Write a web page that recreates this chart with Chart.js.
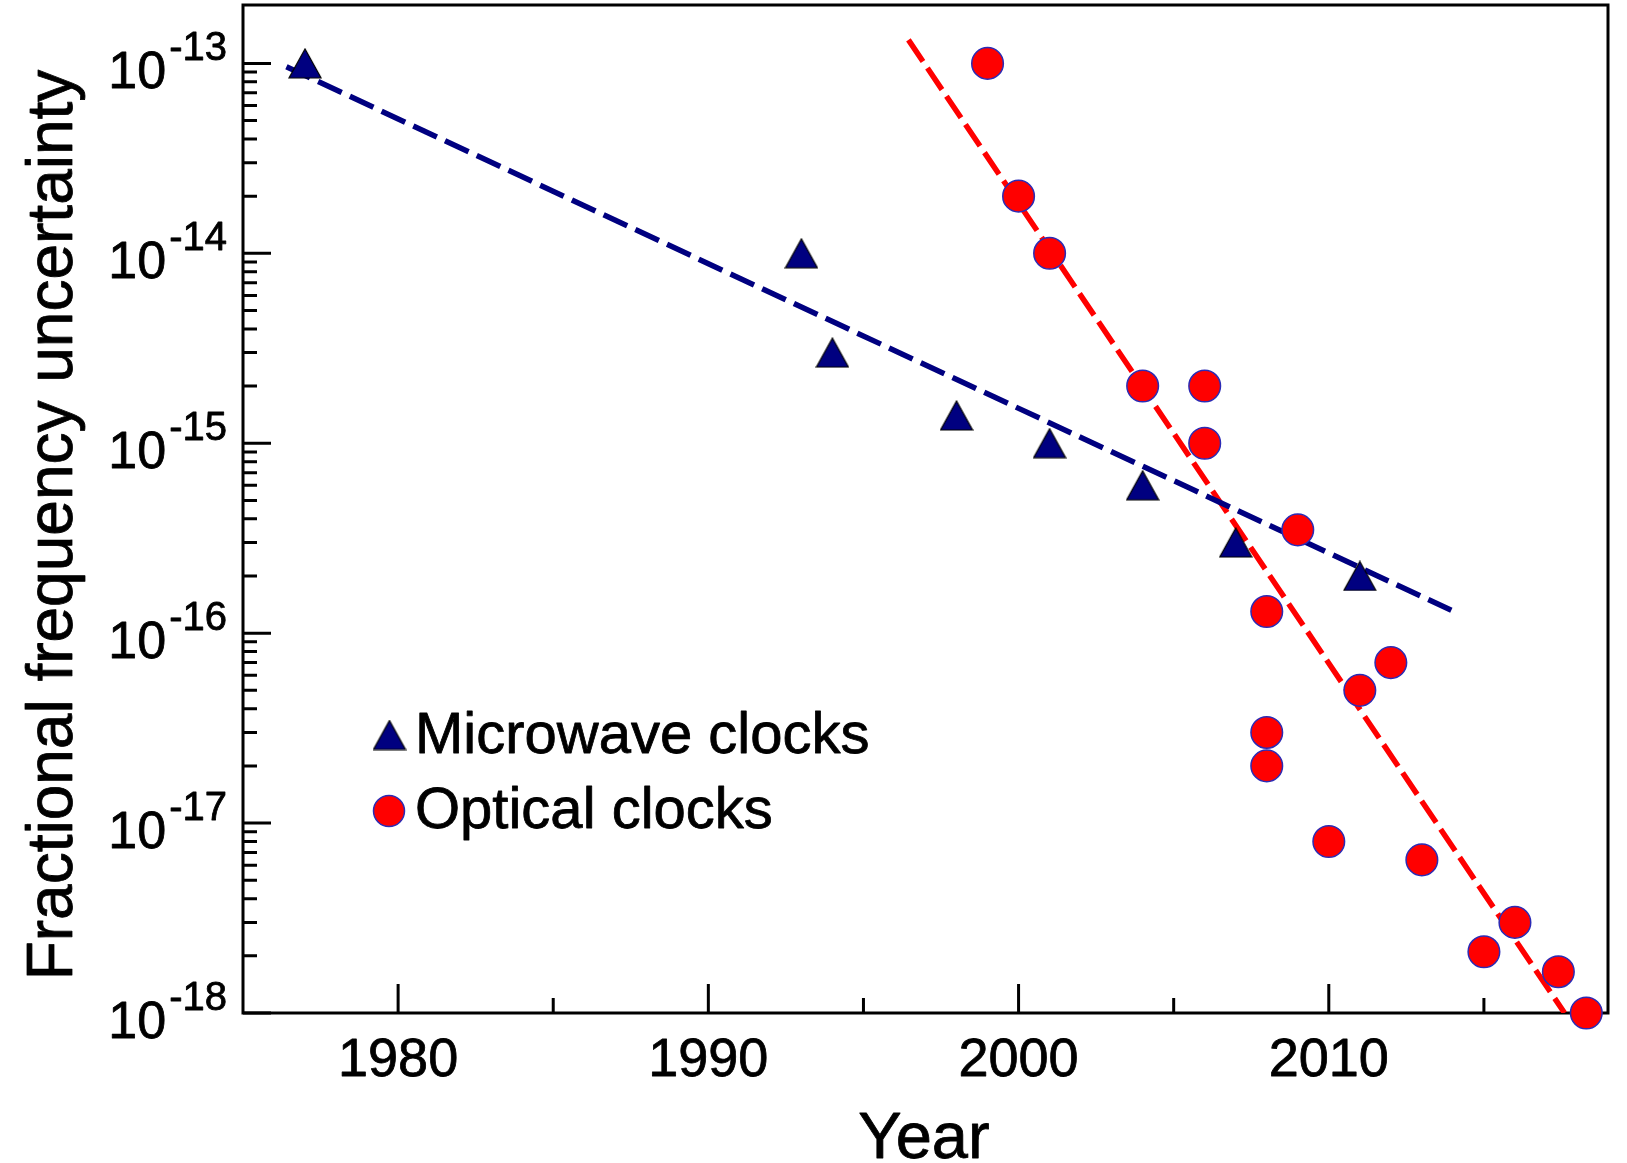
<!DOCTYPE html>
<html>
<head>
<meta charset="utf-8">
<script src="https://cdn.jsdelivr.net/npm/chart.js@4.4.1/dist/chart.umd.min.js"></script>
<style>
  html, body { margin: 0; padding: 0; background: #fff; }
  #wrap { width: 1627px; height: 1163px; }
</style>
</head>
<body>
<div id="wrap"><canvas id="clockChart" width="1627" height="1163"></canvas></div>
<script>
const microwaveYears = [1977, 1993, 1994, 1998, 2001, 2004, 2007, 2011];
const microwaveValues = [1e-13, 1e-14, 3e-15, 1.4e-15, 1e-15, 6e-16, 3e-16, 2e-16];

const opticalYears = [1999, 2000, 2001, 2004, 2006, 2006, 2008, 2008, 2008, 2009,
                      2010, 2011, 2012, 2013, 2015, 2016, 2017.4, 2018.3];
const opticalValues = [1e-13, 2e-14, 1e-14, 2e-15, 2e-15, 1e-15, 1.3e-16, 3e-17, 2e-17, 3.5e-16,
                       8e-18, 5e-17, 7e-17, 6.4e-18, 2.1e-18, 3e-18, 1.65e-18, 1e-18];

// dashed trend lines (end points)
const microwaveFitYears = [1976.4, 2013.95];
const microwaveFitValues = [9.6e-14, 1.32e-16];
const opticalFitYears = [1996.45, 2017.6];
const opticalFitValues = [1.33e-13, 1e-18];

// axes
const xMajorTicks = [1980, 1990, 2000, 2010];
const xMinorTicks = [1985, 1995, 2005, 2015];
const yTickExponents = [-13, -14, -15, -16, -17, -18];

const seriesNames = ['Microwave clocks', 'Optical clocks'];
const xTitle = 'Year';
const yTitle = 'Fractional frequency uncertainty';

const FONT = "'Liberation Sans', Arial, Helvetica, sans-serif";
const NAVY = '#000080';
const RED = '#ff0000';
const CIRCLE_EDGE = '#2b2bb5';

const toPoints = (xs, ys) => xs.map((x, i) => ({ x: x, y: ys[i] }));

function makeTriangle(w, h) {
    const c = document.createElement('canvas');
    c.width = w;
    c.height = h;
    const g = c.getContext('2d');
    g.beginPath();
    g.moveTo(w / 2, 1);
    g.lineTo(w - 1, h - 1);
    g.lineTo(1, h - 1);
    g.closePath();
    g.fillStyle = NAVY;
    g.fill();
    g.strokeStyle = '#000000';
    g.lineWidth = 1.2;
    g.stroke();
    return c;
}
const triangle = makeTriangle(34, 31);

// slightly heavier text, the original print looks a bit bold
function heavyText(ctx, text, x, y) {
    ctx.fillText(text, x, y);
    ctx.strokeText(text, x, y);
}

/* frame + inward ticks, under the markers */
const framePlugin = {
    id: 'frame',
    beforeDatasetsDraw(chart) {
        const { ctx, chartArea: a, scales: { x, y } } = chart;
        ctx.save();
        ctx.strokeStyle = '#000';
        ctx.lineWidth = 3;
        ctx.strokeRect(a.left, a.top, a.right - a.left, a.bottom - a.top);

        ctx.beginPath();
        yTickExponents.forEach(e => {
            const py = y.getPixelForValue(Math.pow(10, e));
            ctx.moveTo(a.left, py);
            ctx.lineTo(a.left + 28, py);
        });
        for (let e = -18; e < -13; e++) {
            for (let k = 2; k <= 9; k++) {
                const py = y.getPixelForValue(k * Math.pow(10, e));
                ctx.moveTo(a.left, py);
                ctx.lineTo(a.left + 14, py);
            }
        }
        xMajorTicks.forEach(v => {
            const px = x.getPixelForValue(v);
            ctx.moveTo(px, a.bottom);
            ctx.lineTo(px, a.bottom - 29);
        });
        xMinorTicks.forEach(v => {
            const px = x.getPixelForValue(v);
            ctx.moveTo(px, a.bottom);
            ctx.lineTo(px, a.bottom - 15);
        });
        ctx.stroke();
        ctx.restore();
    }
};

/* tick labels, axis titles and the in-plot legend */
const labelPlugin = {
    id: 'labels',
    afterDraw(chart) {
        const { ctx, scales: { x, y } } = chart;
        ctx.save();
        ctx.fillStyle = '#000';
        ctx.strokeStyle = '#000';
        ctx.lineWidth = 0.8;
        ctx.lineJoin = 'round';

        // x tick labels
        ctx.font = '54px ' + FONT;
        ctx.textAlign = 'center';
        ctx.textBaseline = 'alphabetic';
        xMajorTicks.forEach(v => heavyText(ctx, String(v), x.getPixelForValue(v), 1076));

        // y tick labels: 10 with a raised exponent
        const rightEdge = 227;
        yTickExponents.forEach(e => {
            const py = y.getPixelForValue(Math.pow(10, e));
            const expText = '-' + String(Math.abs(e));
            ctx.font = '40px ' + FONT;
            const ew = ctx.measureText(expText).width;
            ctx.textAlign = 'left';
            heavyText(ctx, expText, rightEdge - ew, py - 3);
            ctx.font = '52px ' + FONT;
            ctx.textAlign = 'right';
            heavyText(ctx, '10', rightEdge - ew - 3, py + 25);
        });

        // axis titles
        ctx.textAlign = 'center';
        ctx.font = '65px ' + FONT;
        heavyText(ctx, xTitle, 924, 1158);
        ctx.save();
        ctx.translate(72, 525);
        ctx.rotate(-Math.PI / 2);
        ctx.font = '64px ' + FONT;
        heavyText(ctx, yTitle, 0, 0);
        ctx.restore();

        // legend
        ctx.drawImage(triangle, 389.5 - triangle.width / 2, 735 - triangle.height / 2);
        ctx.beginPath();
        ctx.arc(389, 811, 15.5, 0, Math.PI * 2);
        ctx.fillStyle = RED;
        ctx.fill();
        ctx.strokeStyle = CIRCLE_EDGE;
        ctx.lineWidth = 1.5;
        ctx.stroke();

        ctx.fillStyle = '#000';
        ctx.strokeStyle = '#000';
        ctx.lineWidth = 0.8;
        ctx.font = '58px ' + FONT;
        ctx.textAlign = 'left';
        heavyText(ctx, seriesNames[0], 415, 753);
        heavyText(ctx, seriesNames[1], 415, 828);
        ctx.restore();
    }
};

const ctx = document.getElementById('clockChart').getContext('2d');

new Chart(ctx, {
    type: 'scatter',
    data: {
        datasets: [{
            label: seriesNames[0],
            data: toPoints(microwaveYears, microwaveValues),
            pointStyle: triangle,
            pointRadius: 16,
            pointHoverRadius: 16,
            clip: false,
            order: 0
        }, {
            label: seriesNames[1],
            data: toPoints(opticalYears, opticalValues),
            pointStyle: 'circle',
            pointRadius: 15.8,
            pointHoverRadius: 15.8,
            backgroundColor: RED,
            borderColor: CIRCLE_EDGE,
            borderWidth: 1.5,
            clip: false,
            order: 1
        }, {
            label: 'microwave fit',
            data: toPoints(microwaveFitYears, microwaveFitValues),
            showLine: true,
            borderColor: NAVY,
            borderWidth: 5.5,
            borderDash: [26, 9],
            pointRadius: 0,
            order: 2
        }, {
            label: 'optical fit',
            data: toPoints(opticalFitYears, opticalFitValues),
            showLine: true,
            borderColor: RED,
            borderWidth: 5.5,
            borderDash: [26, 8],
            pointRadius: 0,
            order: 3
        }]
    },
    options: {
        responsive: false,
        animation: false,
        layout: { autoPadding: false, padding: { left: 243, right: 19, top: 5, bottom: 150 } },
        plugins: {
            legend: { display: false },
            tooltip: { enabled: false }
        },
        scales: {
            x: { type: 'linear', min: 1975, max: 2019, display: false },
            y: { type: 'logarithmic', min: 1e-18, max: 2.03e-13, display: false }
        }
    },
    plugins: [framePlugin, labelPlugin]
});
</script>
</body>
</html>
